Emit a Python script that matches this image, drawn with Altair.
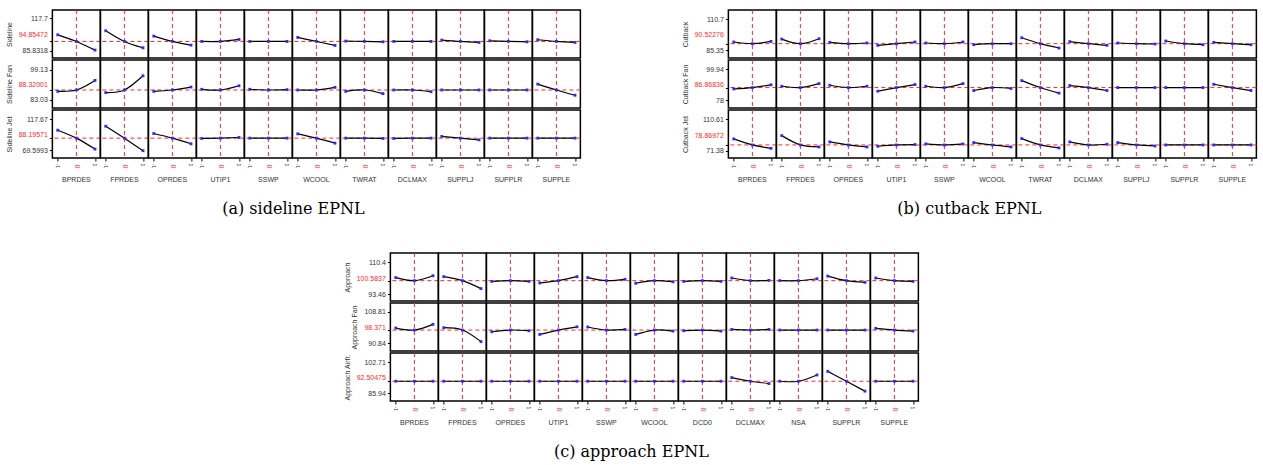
import altair as alt
import pandas as pd

LEVELS = [-1, 0, 1]
CELL = 48
RED = "#ff2a2a"
INK = "#333333"
BLUE = "#2b2bff"
SANS = "Liberation Sans"
SERIF = "DejaVu Serif"

# ---- (a) sideline EPNL -------------------------------------------------
SIDELINE_FACTORS = ["BPRDES", "FPRDES", "OPRDES", "UTIP1", "SSWP", "WCOOL",
                    "TWRAT", "DCLMAX", "SUPPLJ", "SUPPLR", "SUPPLE"]
SIDELINE_RESPONSES = ["Sideline", "Sideline Fan", "Sideline Jet"]
SIDELINE_CURRENT = [94.85472, 88.32001, 88.19571]
SIDELINE_TICKS = [[85.8318, 94.85472, 117.7],
                  [83.03, 88.32001, 99.13],
                  [69.5993, 88.19571, 117.67]]
SIDELINE_DOMAIN = [[78.5, 125.9], [78.6, 104.5], [57.2, 132.1]]
SIDELINE_LOW = [
    [101.4, 105.4, 100.1, 94.85, 94.85, 98.8, 95.2, 94.85, 96.2, 95.5, 96.5],
    [87.6, 86.9, 87.6, 88.7, 88.7, 88.32, 87.6, 88.32, 88.32, 88.32, 91.5],
    [100.6, 106.8, 95.4, 87.7, 88.2, 94.9, 88.2, 87.7, 90.8, 88.2, 88.2],
]
SIDELINE_HIGH = [
    [86.3, 88.6, 91.2, 96.8, 94.85, 90.9, 94.5, 94.85, 93.9, 94.5, 93.9],
    [93.5, 96.0, 89.9, 90.6, 88.5, 89.75, 86.35, 87.4, 88.32, 88.32, 85.5],
    [71.1, 68.6, 79.4, 89.2, 88.2, 80.4, 87.7, 88.2, 85.6, 88.2, 88.2],
]

# ---- (b) cutback EPNL --------------------------------------------------
CUTBACK_FACTORS = ["BPRDES", "FPRDES", "OPRDES", "UTIP1", "SSWP", "WCOOL",
                   "TWRAT", "DCLMAX", "SUPPLJ", "SUPPLR", "SUPPLE"]
CUTBACK_RESPONSES = ["Cutback", "Cutback Fan", "Cutback Jet"]
CUTBACK_CURRENT = [90.52276, 86.86836, 78.86972]
CUTBACK_TICKS = [[85.35, 90.52276, 110.7],
                 [78, 86.86836, 99.94],
                 [71.38, 78.86972, 110.61]]
CUTBACK_DOMAIN = [[78.8, 118.1], [72.3, 106.5], [62.7, 122.1]]
CUTBACK_LOW = [
    [91.9, 94.3, 91.6, 89.2, 91.1, 89.7, 95.4, 92.2, 91.1, 92.7, 91.6],
    [85.9, 87.8, 88.5, 84.3, 87.8, 84.75, 91.8, 88.3, 86.87, 86.87, 89.2],
    [86.3, 90.4, 82.6, 77.2, 80.1, 81.8, 86.7, 82.6, 81.8, 78.87, 78.87],
]
CUTBACK_HIGH = [
    [92.4, 94.6, 91.1, 91.9, 91.9, 90.5, 87.0, 89.2, 90.25, 89.7, 89.7],
    [88.8, 89.7, 87.8, 89.0, 89.7, 86.2, 82.9, 84.75, 86.87, 86.87, 84.75],
    [74.7, 76.4, 76.4, 79.3, 80.1, 76.4, 75.2, 79.7, 77.6, 78.87, 78.87],
]

# ---- (c) approach EPNL -------------------------------------------------
APPROACH_FACTORS = ["BPRDES", "FPRDES", "OPRDES", "UTIP1", "SSWP", "WCOOL",
                    "DCD0", "DCLMAX", "NSA", "SUPPLR", "SUPPLE"]
APPROACH_RESPONSES = ["Approach", "Approach Fan", "Approach Airfr."]
APPROACH_CURRENT = [100.5837, 98.371, 92.50475]
APPROACH_TICKS = [[93.46, 100.5837, 110.4],
                  [90.84, 98.371, 108.81],
                  [85.94, 92.50475, 102.71]]
APPROACH_DOMAIN = [[89.75, 115.3], [86.5, 113.7], [81.9, 107.65]]
APPROACH_LOW = [
    [102.2, 102.7, 100.2, 99.35, 102.2, 99.2, 100.2, 102.0, 100.58, 103.0, 102.0],
    [99.5, 99.7, 97.4, 95.9, 100.1, 95.9, 98.0, 98.7, 98.37, 98.37, 99.3],
    [92.5, 92.5, 92.5, 92.5, 92.5, 92.5, 92.5, 94.45, 92.5, 97.8, 92.5],
]
APPROACH_HIGH = [
    [103.2, 96.35, 100.2, 102.7, 101.3, 100.0, 100.2, 100.7, 101.6, 99.7, 100.2],
    [101.6, 91.8, 98.0, 100.2, 98.7, 97.8, 97.8, 98.7, 98.37, 98.37, 97.8],
    [92.5, 92.5, 92.5, 92.5, 92.5, 92.5, 92.5, 91.27, 95.86, 87.2, 92.5],
]


def response_row(factors, response, current, ticks, domain, low, high, bottom):
    """One profiler row: a response traced against every factor."""
    records = []
    for f, lo, hi in zip(factors, low, high):
        for lev, val in zip(LEVELS, (lo, current, hi)):
            records.append({"factor": f, "level": lev, "value": val})
    df = pd.DataFrame(records)

    is_cur = f"abs(datum.value - {current}) < 1e-9"
    # the current-value label sits midway between the extreme labels
    mid = (ticks[0] + ticks[-1]) / 2
    shift = (current - mid) / (domain[1] - domain[0]) * CELL

    y_axis = alt.Axis(
        values=ticks, title=response, labelExpr="'' + datum.value",
        labelColor=alt.condition(is_cur, alt.value(RED), alt.value(INK)),
        labelOffset=alt.condition(is_cur, alt.value(shift), alt.value(0)),
        labelFontSize=7, labelFont=SANS, labelOverlap=False, labelFlush=False,
        labelPadding=2, tickSize=3, tickColor="black", domain=False, grid=False,
        titleFont=SANS, titleFontSize=7, titleFontWeight="normal",
        titleColor=INK, titlePadding=6,
    )
    if bottom:
        zero = "datum.value == 0"
        x_axis = alt.Axis(
            values=LEVELS, labelExpr="'' + datum.value", labelAngle=90,
            labelColor=alt.condition(zero, alt.value(RED), alt.value(INK)),
            labelFontSize=alt.condition(zero, alt.value(7), alt.value(5)),
            labelPadding=alt.condition(zero, alt.value(6), alt.value(2)),
            tickSize=alt.condition(zero, alt.value(0), alt.value(3)),
            labelFont=SANS, labelOverlap=False, labelFlush=False,
            tickColor="black", domain=False, grid=False, title=None,
        )
    else:
        x_axis = None

    x = alt.X("level:Q", scale=alt.Scale(domain=[-1.29, 1.29], nice=False, zero=False),
              axis=x_axis)
    y = alt.Y("value:Q", scale=alt.Scale(domain=domain, nice=False, zero=False),
              axis=y_axis)

    at_current = alt.Chart().transform_filter("datum.level == 0")
    hrule = at_current.mark_rule(color=RED, strokeDash=[4, 3], strokeWidth=1).encode(y=y)
    vrule = at_current.mark_rule(color=RED, strokeDash=[4, 3], strokeWidth=1).encode(x=x)
    curve = alt.Chart().mark_line(color="black", strokeWidth=1.2,
                                  interpolate="natural").encode(x=x, y=y)
    dots = alt.Chart().mark_square(color=BLUE, size=8, opacity=1).encode(x=x, y=y)

    if bottom:
        header = alt.Header(title=None, labelOrient="bottom", labelFont=SANS,
                            labelFontSize=7, labelColor=INK, labelPadding=8)
    else:
        header = None

    return alt.layer(hrule, vrule, curve, dots, data=df).properties(
        width=CELL, height=CELL
    ).facet(
        column=alt.Column("factor:N", sort=factors, title=None, header=header),
        spacing=0,
        bounds="flush",
    )


def profiler(factors, responses, currents, ticks, domains, lows, highs, caption):
    rows = []
    for i, resp in enumerate(responses):
        rows.append(response_row(factors, resp, currents[i], ticks[i], domains[i],
                                 lows[i], highs[i], bottom=(i == len(responses) - 1)))
    # rows abut: pull each one up over the facet's spare margin
    return alt.vconcat(*rows, spacing=-5).properties(
        title=alt.TitleParams(caption, orient="bottom", font=SERIF, fontSize=16,
                              fontWeight="normal", color="black", offset=18,
                              anchor="middle")
    )


grid_a = profiler(SIDELINE_FACTORS, SIDELINE_RESPONSES, SIDELINE_CURRENT,
                  SIDELINE_TICKS, SIDELINE_DOMAIN, SIDELINE_LOW, SIDELINE_HIGH,
                  "(a) sideline EPNL")
grid_b = profiler(CUTBACK_FACTORS, CUTBACK_RESPONSES, CUTBACK_CURRENT,
                  CUTBACK_TICKS, CUTBACK_DOMAIN, CUTBACK_LOW, CUTBACK_HIGH,
                  "(b) cutback EPNL")
grid_c = profiler(APPROACH_FACTORS, APPROACH_RESPONSES, APPROACH_CURRENT,
                  APPROACH_TICKS, APPROACH_DOMAIN, APPROACH_LOW, APPROACH_HIGH,
                  "(c) approach EPNL")

chart = alt.vconcat(
    alt.hconcat(grid_a, grid_b, spacing=98),
    grid_c,
    spacing=34,
    center=True,
).properties(
    padding={"left": 5, "top": 8, "right": 5, "bottom": 5},
    background="white",
).configure_view(stroke="black", strokeWidth=1.5)

chart.save("out.html", embed_options={"renderer": "svg", "actions": False})
